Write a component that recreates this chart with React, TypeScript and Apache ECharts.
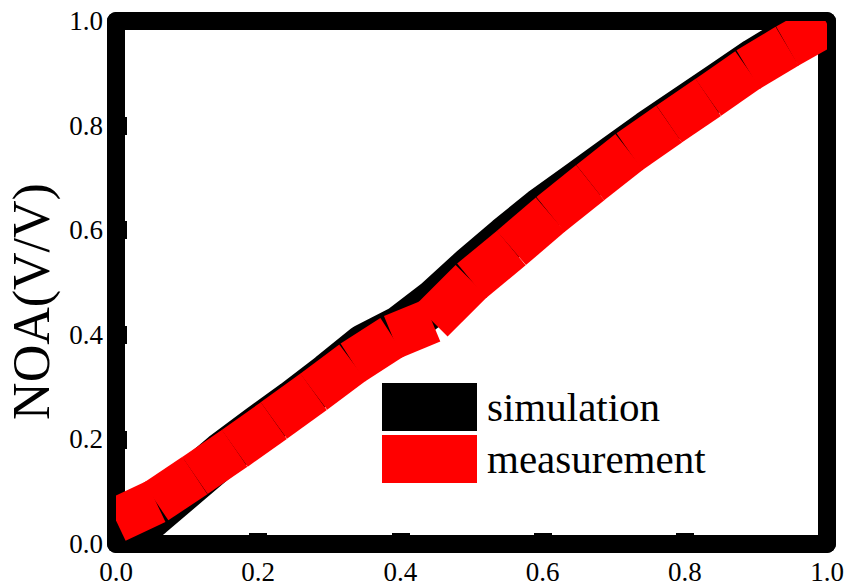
import React, { useEffect, useRef } from "react";
import * as echarts from "echarts";

const FONT = "Liberation Serif, Times New Roman, serif";

// tick labels
const tickLabels = ["0.0", "0.2", "0.4", "0.6", "0.8", "1.0"];

// simulation (black)
const simX = [0, 0.05, 0.1, 0.15, 0.2, 0.25, 0.3, 0.35, 0.4, 0.45, 0.5, 0.55, 0.6, 0.65, 0.7, 0.75, 0.8, 0.85, 0.9, 0.95, 1.0];
const simY = [0.0, 0.055, 0.113, 0.171, 0.222, 0.271, 0.323, 0.378, 0.413, 0.465, 0.527, 0.585, 0.64, 0.689, 0.738, 0.787, 0.833, 0.879, 0.925, 0.966, 1.006];

// measurement (red)
const measX = [0, 0.056, 0.111, 0.167, 0.222, 0.278, 0.333, 0.389, 0.444, 0.5, 0.556, 0.611, 0.667, 0.722, 0.778, 0.833, 0.889, 0.944, 1.0];
const measY = [0.045, 0.081, 0.131, 0.183, 0.236, 0.291, 0.347, 0.396, 0.427, 0.503, 0.566, 0.63, 0.691, 0.75, 0.803, 0.854, 0.907, 0.952, 0.995];

const seriesNames = ["simulation", "measurement"];
const seriesColors = ["#000000", "#ff0000"];
const yAxisTitle = "NOA(V/V)";

const fmt = (v: number) => tickLabels[Math.round(v / 0.2)] ?? String(v);

// whole curve as one stroked polyline
function polylineSeries(name: string, color: string, xs: number[], ys: number[]) {
  return {
    name,
    type: "custom",
    clip: true,
    itemStyle: { color },
    encode: { x: 0, y: 1 },
    data: xs.map((x, i) => [x, ys[i]]),
    renderItem: (params: any, api: any) => {
      if (params.dataIndex !== 0) return null;
      const pts = xs.map((x, i) => api.coord([x, ys[i]]));
      return {
        type: "polyline",
        shape: { points: pts },
        style: { stroke: color, lineWidth: 45, lineCap: "butt", lineJoin: "round", fill: null },
      };
    },
  };
}

// curve drawn segment by segment (butt ends, small notches at vertices)
function segmentSeries(name: string, color: string, xs: number[], ys: number[]) {
  return {
    name,
    type: "custom",
    clip: true,
    itemStyle: { color },
    encode: { x: 0, y: 1 },
    data: xs.map((x, i) => [x, ys[i]]),
    renderItem: (params: any, api: any) => {
      const i = params.dataIndex;
      if (i >= xs.length - 1) return null;
      const p0 = api.coord([xs[i], ys[i]]);
      const p1 = api.coord([xs[i + 1], ys[i + 1]]);
      return {
        type: "line",
        shape: { x1: p0[0], y1: p0[1], x2: p1[0], y2: p1[1] },
        style: { stroke: color, lineWidth: 45, lineCap: "butt", fill: null },
      };
    },
  };
}

export default function App() {
  const ref = useRef<HTMLDivElement>(null);
  useEffect(() => {
    if (!ref.current) return;
    const chart = echarts.init(ref.current, undefined, { renderer: "svg" });
    const frameLine = { show: true, onZero: false, lineStyle: { color: "#000", width: 18 } };
    const tick = { show: true, inside: true, length: 11, lineStyle: { color: "#000", width: 18 } };
    const label = { margin: 14, fontSize: 27, color: "#000", fontFamily: FONT, formatter: fmt };
    chart.setOption({
      animation: false,
      grid: { left: 116, right: 20, top: 21, bottom: 40, containLabel: false },
      xAxis: [
        { type: "value", min: 0, max: 1, interval: 0.2, position: "bottom", axisLine: frameLine, axisTick: tick, axisLabel: label, splitLine: { show: false } },
        { type: "value", min: 0, max: 1, interval: 0.2, position: "top", axisLine: frameLine, axisTick: { show: false }, axisLabel: { show: false }, splitLine: { show: false } },
      ],
      yAxis: [
        { type: "value", min: 0, max: 1, interval: 0.2, position: "left", axisLine: frameLine, axisTick: tick, axisLabel: { ...label, margin: 13 }, splitLine: { show: false } },
        { type: "value", min: 0, max: 1, interval: 0.2, position: "right", axisLine: frameLine, axisTick: { show: false }, axisLabel: { show: false }, splitLine: { show: false } },
      ],
      legend: {
        orient: "vertical",
        left: 382,
        top: 383,
        itemWidth: 95,
        itemHeight: 48,
        itemGap: 4,
        padding: 0,
        icon: "rect",
        itemStyle: { borderWidth: 0 },
        textStyle: { fontFamily: FONT, fontSize: 41, color: "#000", padding: [0, 0, 0, 5] },
        data: seriesNames,
      },
      graphic: [
        {
          type: "text",
          x: 31,
          y: 301.5,
          rotation: Math.PI / 2,
          style: { text: yAxisTitle, fontSize: 52, fontFamily: FONT, fill: "#000", align: "center", verticalAlign: "middle" },
        },
      ],
      series: [
        polylineSeries(seriesNames[0], seriesColors[0], simX, simY),
        segmentSeries(seriesNames[1], seriesColors[1], measX, measY),
      ],
    });
    return () => chart.dispose();
  }, []);
  return <div ref={ref} style={{ position: "fixed", left: 0, top: 0, width: 847, height: 585, background: "#fff" }} />;
}
